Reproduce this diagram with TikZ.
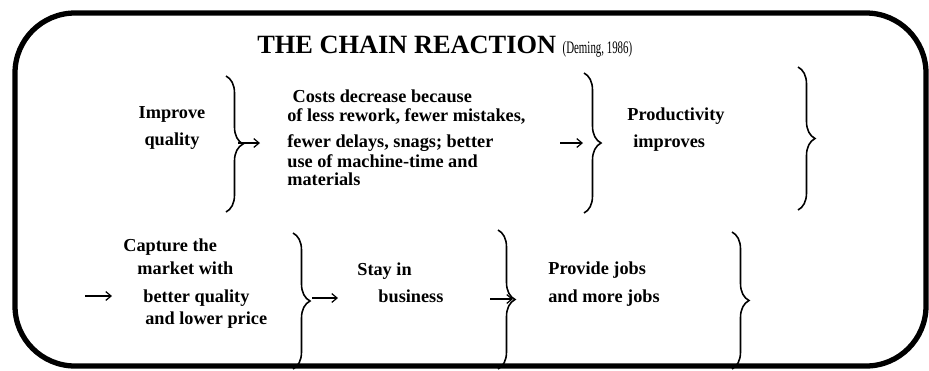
\documentclass[tikz,border=0pt]{standalone}
\usepackage{fontspec}
\setmainfont{Liberation Serif}
\usepackage{graphicx}
\usepackage{tikz}
\usetikzlibrary{positioning}
\usetikzlibrary{arrows.meta,decorations.pathreplacing}

\begin{document}
\begin{tikzpicture}[x=0.02cm,y=-0.02cm,
    bracket/.style={decorate,decoration={brace,amplitude=0.34cm},line width=0.9pt},
    chainarrow/.style={-{Straight Barb[length=3pt,width=5pt]},line width=0.7pt},
    chaintext/.style={font=\fontsize{10.4}{10.5}\selectfont\bfseries,inner sep=0pt,align=left,anchor=north west}]
    \useasboundingbox (0,0) rectangle (929,370);

    % title
    \node[anchor=base west,inner sep=0pt] (title) at (257,53) {\fontsize{15}{18}\selectfont\bfseries THE CHAIN REACTION \mdseries\fontsize{10}{12}\selectfont\scalebox{0.62}[1]{(Deming, 1986)}};

    % first row
    \node[chaintext,align=center,anchor=north] (improve) at (172,106) {Improve\\[4.9pt]quality};
    \node[chaintext] (costs) at (287,89.6) {\hspace*{3pt}Costs decrease because\\ of less rework, fewer mistakes,\\[4.3pt] fewer delays, snags; better\\[0.9pt] use of machine-time and\\ materials};
    \node[chaintext] (product) at (627,107.6) {Productivity\\[4.9pt]\hspace*{3.4pt}improves};

    % second row
    \node[chaintext] (capture) at (123,238.6) {Capture the\\[2.6pt]\hspace*{8pt}market with\\[5.4pt]\hspace*{11.4pt}better quality\\[2pt]\hspace*{12.5pt}and lower price};
    \node[chaintext] (stay) at (357,262) {Stay in\\[5.4pt]\hspace*{12pt}business};
    \node[chaintext] (jobs) at (548,261.6) {Provide jobs\\[5.4pt]and more jobs};

    % braces
    \draw[bracket] (226,76) -- (226,212);
    \draw[bracket] (584,73) -- (584,213);
    \draw[bracket] (798,67) -- (798,210);
    \draw[bracket] (293,233) -- (293,369);
    \draw[bracket] (498,230) -- (498,369);
    \draw[bracket] (732,232) -- (732,369);

    % arrows
    \coordinate (tip1) at (238,143);
    \coordinate (end1) at (260,143);
    \coordinate (start2) at (560,143);
    \coordinate (end2) at (583,143);
    \coordinate (start3) at (85,296);
    \coordinate (end3) at (112,296);
    \coordinate (tip4) at (312,298);
    \coordinate (end4) at (338,298);
    \coordinate (start5) at (490,299);
    \coordinate (end5) at (513,299);
    \draw[chainarrow] (tip1) -- (end1);
    \draw[chainarrow] (start2) -- (end2);
    \draw[chainarrow] (start3) -- (end3);
    \draw[chainarrow] (tip4) -- (end4);
    \draw[chainarrow] (start5) -- (end5);

    % frame
    \draw[line width=3pt,rounded corners=1.2cm] (15,13) rectangle (926,366);
\end{tikzpicture}
\end{document}
